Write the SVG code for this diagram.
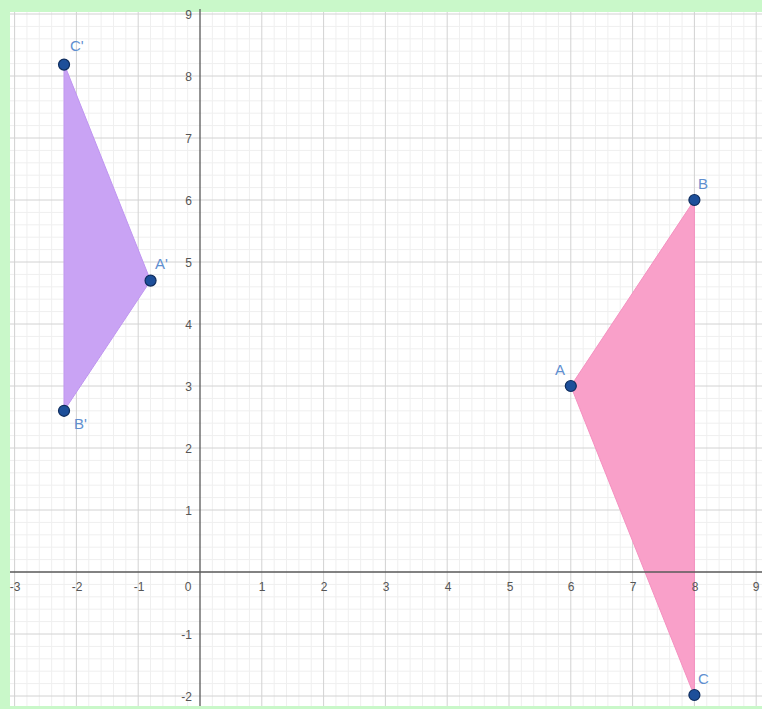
<svg xmlns="http://www.w3.org/2000/svg" width="762" height="709" viewBox="0 0 762 709">
<style>
.minor{stroke:#efefef;stroke-width:1;fill:none}
.major{stroke:#d2d2d2;stroke-width:1;fill:none}
.axis{stroke:#5a5a5a;stroke-width:1.3;fill:none}
.tick{font-family:"Liberation Sans",Arial,sans-serif;font-size:12px;fill:#555}
.pt{fill:#1d4f9a;stroke:#0f2d5e;stroke-width:1.2}
.lbl{font-family:"Liberation Sans",Arial,sans-serif;font-size:15px;fill:#5f8fd0}
</style>
<rect x="0" y="0" width="762" height="709" fill="#c9f8c9"/>
<rect x="10" y="12" width="752" height="694" fill="#ffffff"/>
<g id="grid">
<path class="minor" d="M14.6 12V706M26.96 12V706M39.32 12V706M51.68 12V706M64.04 12V706M88.76 12V706M101.12 12V706M113.48 12V706M125.84 12V706M150.56 12V706M162.92 12V706M175.28 12V706M187.64 12V706M212.36 12V706M224.72 12V706M237.08 12V706M249.44 12V706M274.16 12V706M286.52 12V706M298.88 12V706M311.24 12V706M335.96 12V706M348.32 12V706M360.68 12V706M373.04 12V706M397.76 12V706M410.12 12V706M422.48 12V706M434.84 12V706M459.56 12V706M471.92 12V706M484.28 12V706M496.64 12V706M521.36 12V706M533.72 12V706M546.08 12V706M558.44 12V706M583.16 12V706M595.52 12V706M607.88 12V706M620.24 12V706M644.96 12V706M657.32 12V706M669.68 12V706M682.04 12V706M706.76 12V706M719.12 12V706M731.48 12V706M743.84 12V706"/>
<path class="minor" d="M10 683.6H762M10 671.2H762M10 658.8H762M10 646.4H762M10 621.6H762M10 609.2H762M10 596.8H762M10 584.4H762M10 559.6H762M10 547.2H762M10 534.8H762M10 522.4H762M10 497.6H762M10 485.2H762M10 472.8H762M10 460.4H762M10 435.6H762M10 423.2H762M10 410.8H762M10 398.4H762M10 373.6H762M10 361.2H762M10 348.8H762M10 336.4H762M10 311.6H762M10 299.2H762M10 286.8H762M10 274.4H762M10 249.6H762M10 237.2H762M10 224.8H762M10 212.4H762M10 187.6H762M10 175.2H762M10 162.8H762M10 150.4H762M10 125.6H762M10 113.2H762M10 100.8H762M10 88.4H762M10 63.6H762M10 51.2H762M10 38.8H762M10 26.4H762"/>
<path class="major" d="M14.6 12V706M76.4 12V706M138.2 12V706M261.8 12V706M323.6 12V706M385.4 12V706M447.2 12V706M509 12V706M570.8 12V706M632.6 12V706M694.4 12V706M756.2 12V706"/>
<path class="major" d="M10 696H762M10 634H762M10 510H762M10 448H762M10 386H762M10 324H762M10 262H762M10 200H762M10 138H762M10 76H762M10 14H762"/>
</g>
<g id="polygons">
<polygon id="triangle-ABC" points="570.8,386 694.4,200 694.4,696" fill="#f9a0c9" stroke="#f590c0" stroke-width="1"/>
<polygon id="triangle-A1B1C1" points="150.56,280.6 64.04,410.8 64.04,63.6" fill="#c9a3f4" stroke="#bf95f0" stroke-width="1"/>
</g>
<g id="axes">
<path class="axis" d="M10 572H762M200 9V706"/>
<text class="tick" x="15" y="591" text-anchor="middle">-3</text>
<text class="tick" x="77" y="591" text-anchor="middle">-2</text>
<text class="tick" x="139" y="591" text-anchor="middle">-1</text>
<text class="tick" x="188" y="591" text-anchor="middle">0</text>
<text class="tick" x="262" y="591" text-anchor="middle">1</text>
<text class="tick" x="324" y="591" text-anchor="middle">2</text>
<text class="tick" x="386" y="591" text-anchor="middle">3</text>
<text class="tick" x="448" y="591" text-anchor="middle">4</text>
<text class="tick" x="510" y="591" text-anchor="middle">5</text>
<text class="tick" x="571" y="591" text-anchor="middle">6</text>
<text class="tick" x="633" y="591" text-anchor="middle">7</text>
<text class="tick" x="695" y="591" text-anchor="middle">8</text>
<text class="tick" x="756" y="591" text-anchor="middle">9</text>
<text class="tick" x="192" y="19" text-anchor="end">9</text>
<text class="tick" x="192" y="81" text-anchor="end">8</text>
<text class="tick" x="192" y="143" text-anchor="end">7</text>
<text class="tick" x="192" y="205" text-anchor="end">6</text>
<text class="tick" x="192" y="267" text-anchor="end">5</text>
<text class="tick" x="192" y="329" text-anchor="end">4</text>
<text class="tick" x="192" y="391" text-anchor="end">3</text>
<text class="tick" x="192" y="453" text-anchor="end">2</text>
<text class="tick" x="192" y="515" text-anchor="end">1</text>
<text class="tick" x="192" y="639" text-anchor="end">-1</text>
<text class="tick" x="192" y="701" text-anchor="end">-2</text>
</g>
<g id="A"><circle class="pt" cx="570.8" cy="386" r="5.5"/><text class="lbl" x="555" y="375">A</text></g>
<g id="B"><circle class="pt" cx="694.4" cy="200" r="5.5"/><text class="lbl" x="698" y="189">B</text></g>
<g id="C"><circle class="pt" cx="694.4" cy="695" r="5.5"/><text class="lbl" x="698" y="684">C</text></g>
<g id="A1"><circle class="pt" cx="150.56" cy="280.6" r="5.5"/><text class="lbl" x="155" y="269">A'</text></g>
<g id="B1"><circle class="pt" cx="64.04" cy="410.8" r="5.5"/><text class="lbl" x="74" y="429">B'</text></g>
<g id="C1"><circle class="pt" cx="64.04" cy="64.6" r="5.5"/><text class="lbl" x="70" y="51">C'</text></g>
</svg>
